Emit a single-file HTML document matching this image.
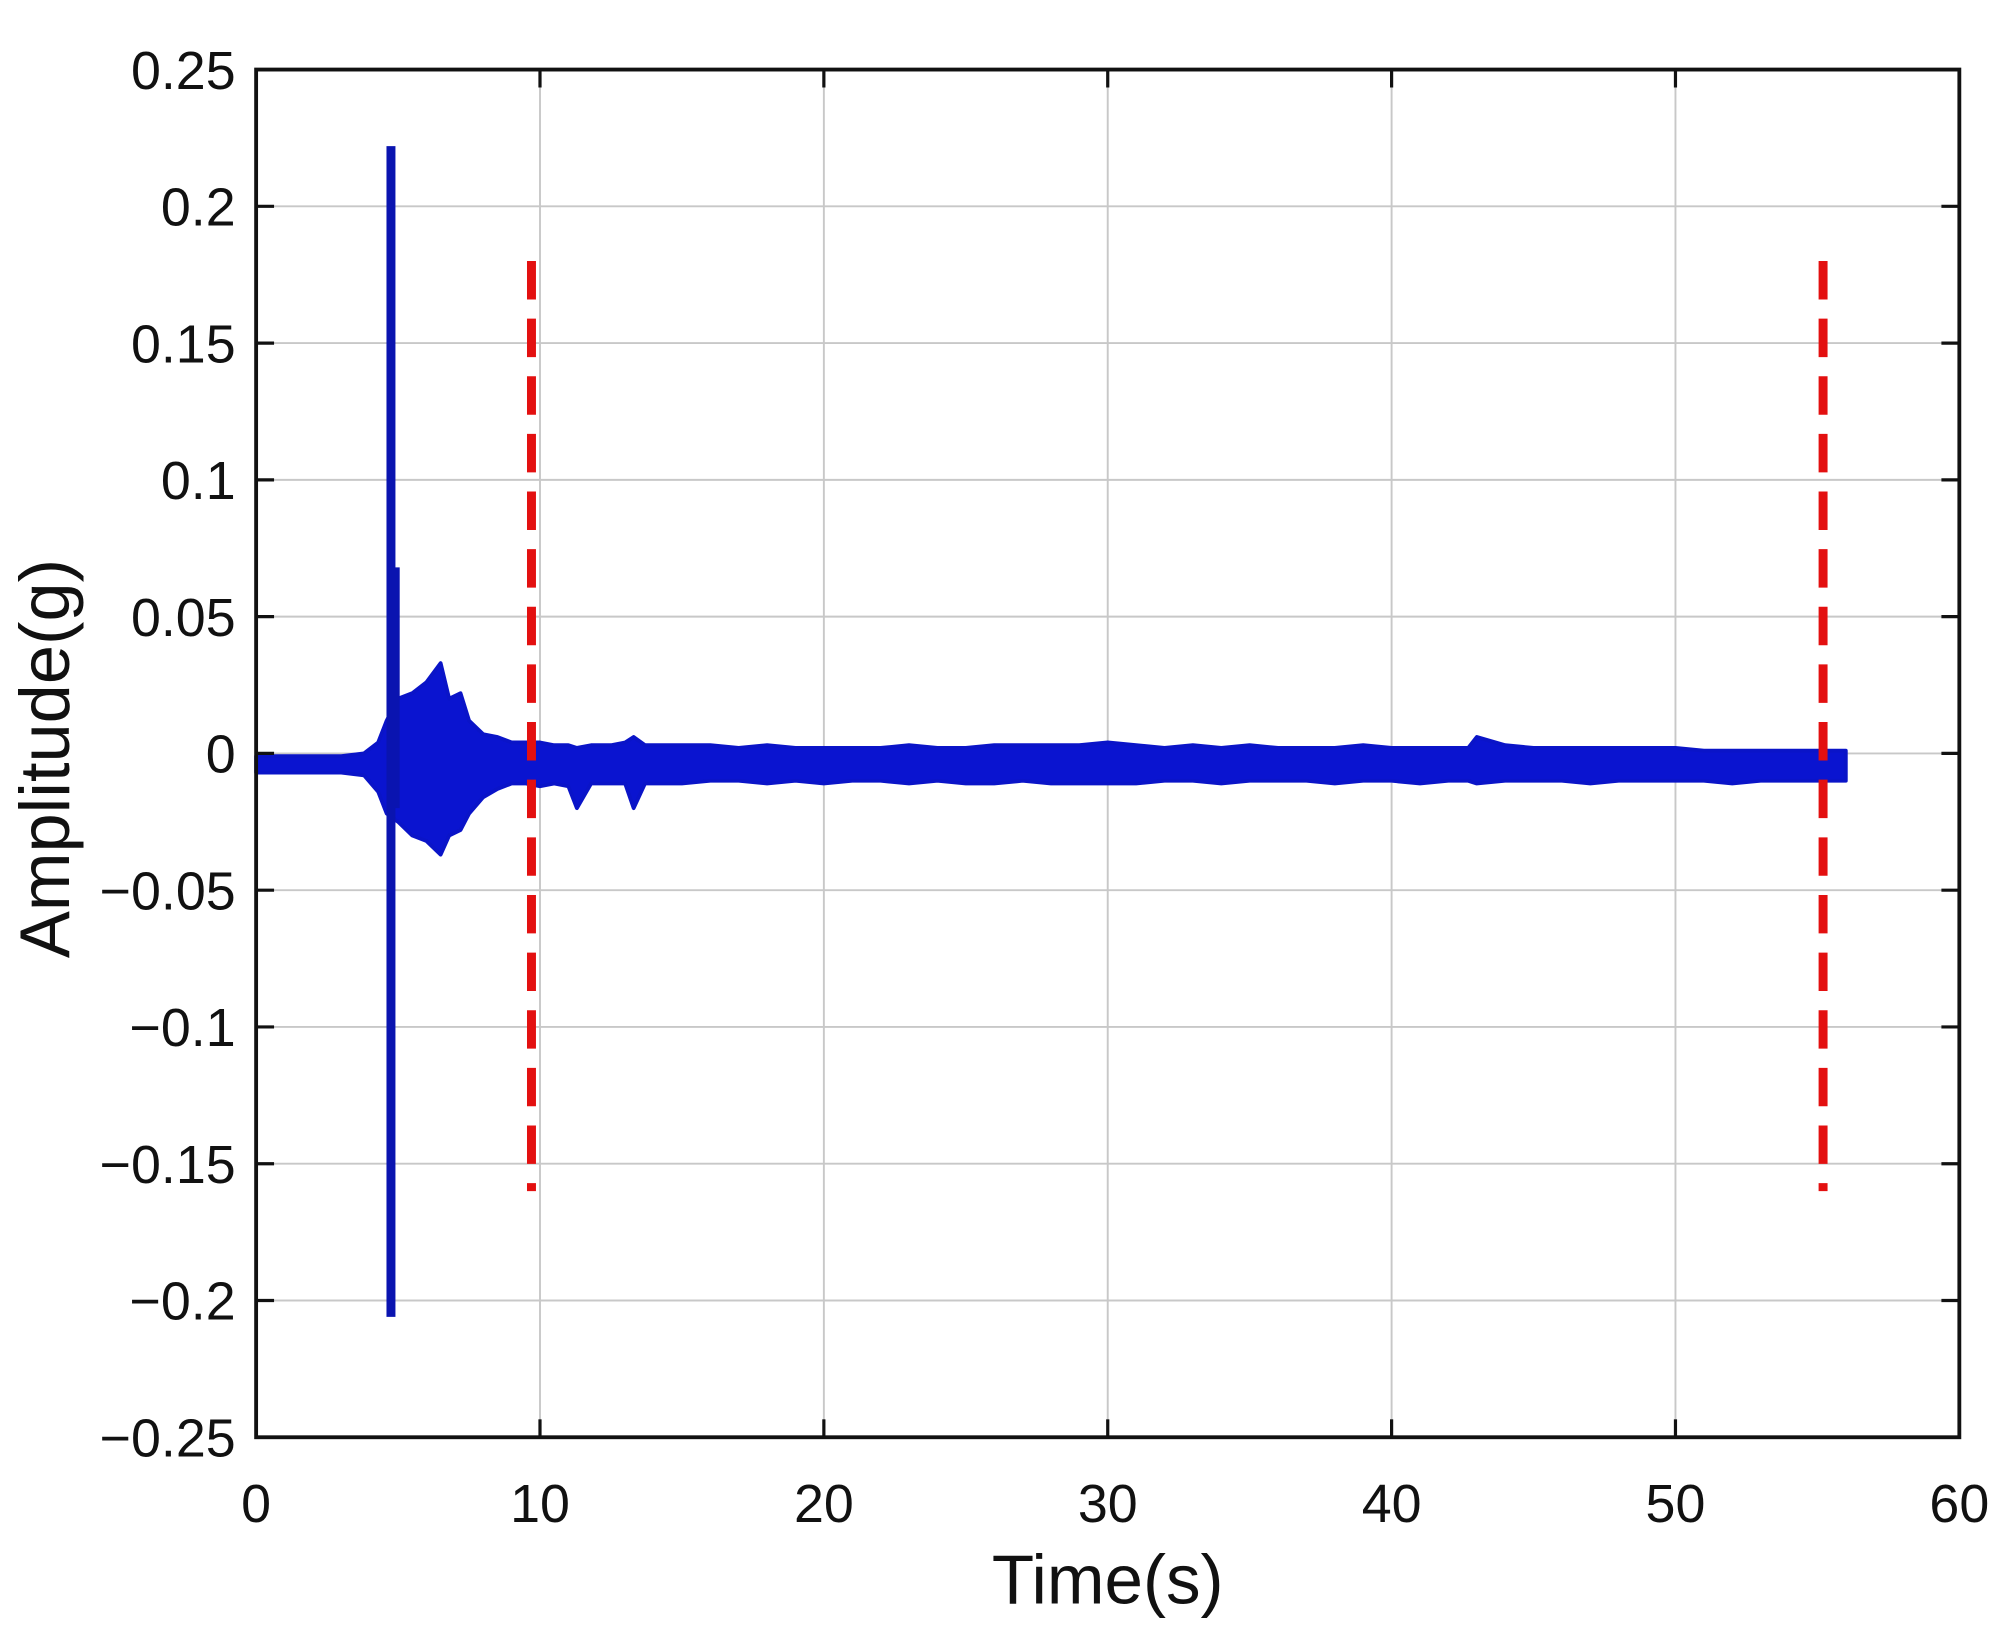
<!DOCTYPE html>
<html><head><meta charset="utf-8"><style>
html,body{margin:0;padding:0;background:#fff;}
svg{display:block;}
text{font-family:"Liberation Sans",sans-serif;fill:#111;}
</style></head><body>
<svg id="chart" width="2008" height="1640" viewBox="0 0 1568 1280" xmlns="http://www.w3.org/2000/svg">
<g id="grid"></g>
<g id="series"></g>
<g id="markers"></g>
<g id="axes"></g>
<text x="865" y="1252" font-size="54" text-anchor="middle">Time(s)</text>
<text transform="translate(54,592) rotate(-90)" font-size="55" text-anchor="middle">Amplitude(g)</text>
</svg>
<script>
const xTicks=[0,10,20,30,40,50,60];
const yTicks=[0.25,0.2,0.15,0.1,0.05,0,-0.05,-0.1,-0.15,-0.2,-0.25];
const yTickLabels=["0.25","0.2","0.15","0.1","0.05","0","\u22120.05","\u22120.1","\u22120.15","\u22120.2","\u22120.25"];
const envTime=[0,1,2,3,3.8,4.3,4.6,5.0,5.5,6.0,6.5,6.8,7.2,7.5,8.0,8.5,9.0,9.5,10,10.5,11,11.3,11.8,12.5,13.0,13.3,13.7,14.5,15,16,17,18,19,20,21,22,23,24,25,26,27,28,29,30,31,32,33,34,35,36,37,38,39,40,41,42,42.7,43,44,45,46,47,48,49,50,51,52,53,54,55,56];
const envUpper=[-0.001,-0.001,-0.001,-0.001,0.000,0.004,0.012,0.020,0.022,0.026,0.033,0.020,0.022,0.012,0.007,0.006,0.004,0.004,0.004,0.003,0.003,0.002,0.003,0.003,0.004,0.006,0.003,0.003,0.003,0.003,0.002,0.003,0.002,0.002,0.002,0.002,0.003,0.002,0.002,0.003,0.003,0.003,0.003,0.004,0.003,0.002,0.003,0.002,0.003,0.002,0.002,0.002,0.003,0.002,0.002,0.002,0.002,0.006,0.003,0.002,0.002,0.002,0.002,0.002,0.002,0.001,0.001,0.001,0.001,0.001,0.001];
const envLower=[-0.007,-0.007,-0.007,-0.007,-0.008,-0.014,-0.022,-0.025,-0.030,-0.032,-0.037,-0.030,-0.028,-0.022,-0.016,-0.013,-0.011,-0.011,-0.012,-0.011,-0.012,-0.020,-0.011,-0.011,-0.011,-0.020,-0.011,-0.011,-0.011,-0.010,-0.010,-0.011,-0.010,-0.011,-0.010,-0.010,-0.011,-0.010,-0.011,-0.011,-0.010,-0.011,-0.011,-0.011,-0.011,-0.010,-0.010,-0.011,-0.010,-0.010,-0.010,-0.011,-0.010,-0.010,-0.011,-0.010,-0.010,-0.011,-0.010,-0.010,-0.010,-0.011,-0.010,-0.010,-0.010,-0.010,-0.011,-0.010,-0.010,-0.010,-0.010];
const spikeTime=[4.75,4.9];
const spikeMax=[0.222,0.068];
const spikeMin=[-0.206,-0.02];
const markerTime=[9.7,55.2];
const markerTop=[0.18,0.18];
const markerBottom=[-0.16,-0.16];

const L=200,R=1530,T=54,B=1122;
const X=v=>L+(v-0)/(60-0)*(R-L);
const Y=v=>T+(0.25-v)/(0.5)*(B-T);
const NS="http://www.w3.org/2000/svg";
function mk(tag,attrs,parent){const e=document.createElementNS(NS,tag);for(const k in attrs)e.setAttribute(k,attrs[k]);parent.appendChild(e);return e;}
const grid=document.getElementById('grid'),axes=document.getElementById('axes'),series=document.getElementById('series'),markers=document.getElementById('markers');

xTicks.forEach((t,i)=>{
  const g=mk('line',{x1:X(t),x2:X(t),y1:T,y2:B,stroke:'#c8c8c8','stroke-width':1.5},grid);
  
  
  const tk=mk('line',{x1:X(t),x2:X(t),y1:B,y2:B-14,stroke:'#111','stroke-width':2.5},axes);
  
  
  const tt=mk('line',{x1:X(t),x2:X(t),y1:T,y2:T+14,stroke:'#111','stroke-width':2.5},axes);
  
  
  const lb=mk('text',{x:X(t),y:B+66,'font-size':42,'text-anchor':'middle'},axes);
  lb.textContent=String(t);
  
  
});
yTicks.forEach((v,i)=>{
  const g=mk('line',{x1:L,x2:R,y1:Y(v),y2:Y(v),stroke:'#c8c8c8','stroke-width':1.5},grid);
  
  
  const tk=mk('line',{x1:L,x2:L+14,y1:Y(v),y2:Y(v),stroke:'#111','stroke-width':2.5},axes);
  
  
  const tr=mk('line',{x1:R,x2:R-14,y1:Y(v),y2:Y(v),stroke:'#111','stroke-width':2.5},axes);
  
  
  const lb=mk('text',{x:L-16,y:Y(v)+15,'font-size':42,'text-anchor':'end'},axes);
  lb.textContent=yTickLabels[i];
  
  
});
const frame=mk('rect',{x:L,y:T,width:R-L,height:B-T,fill:'none',stroke:'#111','stroke-width':3},axes);



let d='M'+X(envTime[0])+','+Y(envUpper[0]);
for(let i=1;i<envTime.length;i++)d+=' L'+X(envTime[i])+','+Y(envUpper[i]);
for(let i=envTime.length-1;i>=0;i--)d+=' L'+X(envTime[i])+','+Y(envLower[i]);
d+=' Z';
const band=mk('path',{d:d,fill:'#0a14d0',stroke:'#0a14c8','stroke-width':3,'stroke-linejoin':'round'},series);


spikeTime.forEach((t,i)=>{
  const s=mk('line',{x1:X(t),x2:X(t),y1:Y(spikeMax[i]),y2:Y(spikeMin[i]),stroke:'#0a14b0','stroke-width':7},series);
  
  
});
markerTime.forEach((t,i)=>{
  const m=mk('line',{x1:X(t),x2:X(t),y1:Y(markerTop[i]),y2:Y(markerBottom[i]),stroke:'#e31010','stroke-width':7,'stroke-dasharray':'30 15'},markers);
  
  
});
</script>
</body></html>
